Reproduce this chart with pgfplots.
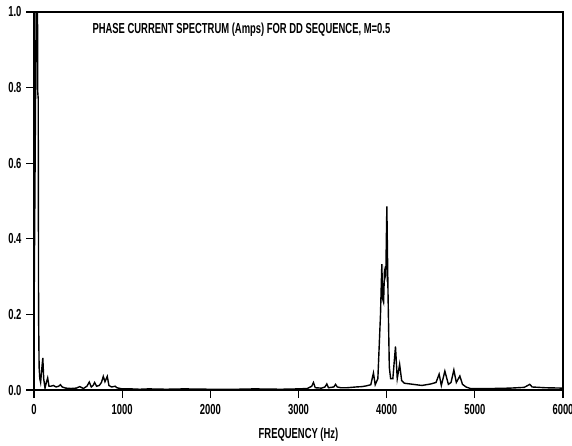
\documentclass[border=0pt]{standalone}
\usepackage{fontspec}
\setmainfont{Liberation Sans}[FakeStretch=0.65]
\usepackage{pgfplots}
\pgfplotsset{compat=1.18}
\usetikzlibrary{calc}

\pgfplotstableread{
f a
0 0.17
36 1.40
42 0.79
48 0.77
52 0.20
58 0.06
66 0.03
75 0.02
90 0.06
100 0.085
110 0.03
125 0.005
140 0.02
155 0.032
170 0.010
190 0.010
220 0.012
250 0.008
280 0.010
300 0.014
320 0.008
360 0.005
420 0.004
480 0.005
520 0.009
560 0.004
600 0.010
627 0.021
650 0.008
670 0.012
688 0.020
710 0.010
740 0.012
765 0.020
786 0.036
805 0.022
831 0.036
850 0.012
880 0.008
920 0.010
940 0.006
1000 0.003
1100 0.003
1200 0.002
1300 0.003
1500 0.002
1700 0.003
2000 0.002
2300 0.002
2500 0.003
2800 0.002
3000 0.003
3100 0.004
3150 0.010
3170 0.020
3190 0.006
3260 0.005
3300 0.008
3321 0.016
3340 0.006
3400 0.008
3420 0.015
3440 0.008
3480 0.006
3550 0.006
3650 0.008
3720 0.009
3770 0.011
3820 0.014
3850 0.045
3870 0.014
3900 0.030
3930 0.200
3945 0.333
3955 0.240
3965 0.232
3975 0.315
3990 0.300
4002 0.486
4015 0.260
4030 0.060
4045 0.030
4070 0.030
4100 0.115
4120 0.030
4147 0.068
4170 0.025
4200 0.018
4300 0.015
4400 0.012
4500 0.016
4560 0.020
4595 0.042
4620 0.012
4660 0.050
4700 0.015
4730 0.020
4762 0.053
4790 0.020
4830 0.037
4860 0.015
4900 0.008
4950 0.004
5000 0.004
5200 0.004
5400 0.005
5560 0.007
5600 0.012
5623 0.015
5650 0.008
5800 0.006
6000 0.005
}\spectrum

\begin{document}
\begin{tikzpicture}
\begin{axis}[
    name=ax,
    scale only axis,
    width=529pt,
    height=378pt,
    xmin=0, xmax=6000,
    ymin=0, ymax=1.0,
    xtick={0,1000,...,6000},
    ytick={0,0.2,...,1.0},
    tick align=outside,
    xtick pos=bottom,
    ytick pos=left,
    major tick length=8pt,
    axis line style={line width=1.2pt},
    tick style={line width=1.2pt, black},
    tick label style={font=\fontsize{14.5}{16}\selectfont\bfseries},
    xticklabel style={yshift=-3pt},
    yticklabel style={xshift=-1pt},
    /pgf/number format/assume math mode=true,
    /pgf/number format/1000 sep={},
    yticklabel style={/pgf/number format/.cd, fixed, fixed zerofill, precision=1},
    xlabel={FREQUENCY (Hz)},
    xlabel style={font=\fontsize{14.5}{16}\selectfont\bfseries, yshift=-6pt},
    clip=true,
]
\addplot[black, line width=1.4pt] table[x=f, y=a] {\spectrum};
\node[anchor=west, font=\fontsize{14.5}{16}\selectfont\bfseries] at (rel axis cs:0.104,0.952)
    {PHASE CURRENT SPECTRUM (Amps) FOR DD SEQUENCE, M=0.5};
\end{axis}
\pgfresetboundingbox
\path[use as bounding box] ($(ax.south west)+(-34pt,-55pt)$) rectangle ($(ax.north east)+(9pt,12pt)$);
\end{tikzpicture}
\end{document}
